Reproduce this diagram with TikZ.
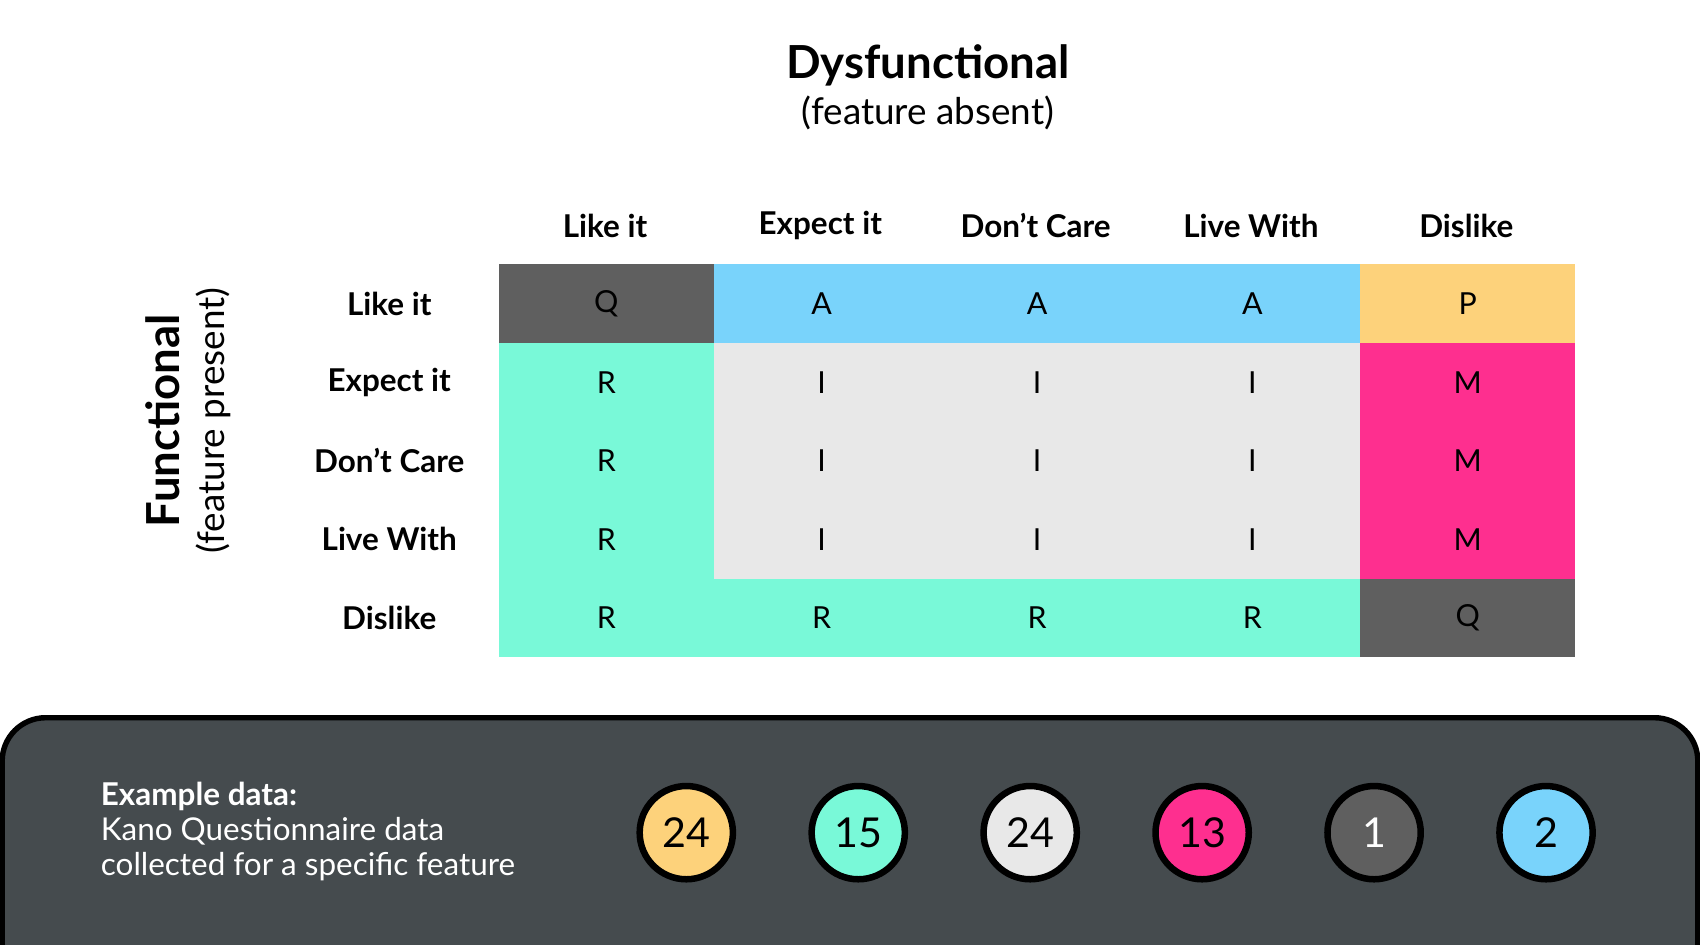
\documentclass[tikz,border=0pt]{standalone}
\usepackage{fontspec}
\setmainfont{Lato}
\begin{document}
\begin{tikzpicture}[x=0.5pt,y=-0.5pt,
 cell/.style={draw=none,minimum width=99.3pt,minimum height=36.3pt,inner sep=0pt,font=\fontsize{14}{16}\selectfont},
 hdr/.style={font=\fontsize{14.5}{16}\selectfont\bfseries},
 dot/.style={circle,draw=black,line width=3pt,minimum size=43pt,inner sep=0pt,font=\fontsize{19}{20}\selectfont}]
\useasboundingbox (0,0) rectangle (1568,871);
\definecolor{cQ}{HTML}{5F5F5F}\definecolor{cA}{HTML}{79D3FB}\definecolor{cP}{HTML}{FDD27B}
\definecolor{cR}{HTML}{79F9D8}\definecolor{cI}{HTML}{E8E8E8}\definecolor{cM}{HTML}{FE2F8F}
\definecolor{panel}{HTML}{454B4E}
\node[font=\fontsize{21}{24}\selectfont\bfseries] (t1) at (856,60) {Dysfunctional};
\node[font=\fontsize{17}{20}\selectfont] (t2) at (856,104) {(feature absent)};
\node[rotate=90,font=\fontsize{21}{24}\selectfont\bfseries] (f1) at (150,388) {Functional};
\node[rotate=90,font=\fontsize{17}{20}\selectfont] (f2) at (197,388) {(feature present)};
\foreach \l [count=\i] in {Like it,Expect it,Don’t Care,Live With,Dislike}{
 \node[hdr] (c\i) at ({558+198.6*(\i-1)},208) {\l};
 \node[hdr] (r\i) at (359,{280+72.5*(\i-1)}) {\l};}
\foreach \row [count=\j] in {{Q/cQ,A/cA,A/cA,A/cA,P/cP},{R/cR,I/cI,I/cI,I/cI,M/cM},{R/cR,I/cI,I/cI,I/cI,M/cM},{R/cR,I/cI,I/cI,I/cI,M/cM},{R/cR,R/cR,R/cR,R/cR,Q/cQ}}{
 \foreach \t/\c [count=\i] in \row{
  \node[cell,fill=\c] (m\j\i) at ({559.3+198.6*(\i-1)},{280+72.5*(\j-1)}) {\t};}}
\draw[panel,fill=panel] (2,875) -- (2,702) arc[start angle=180,end angle=270,radius=40] -- (1526,662) arc[start angle=270,end angle=360,radius=40] -- (1566,875);
\draw[black,line width=2.5pt] (2,875) -- (2,702) arc[start angle=180,end angle=270,radius=40] -- (1526,662) arc[start angle=270,end angle=360,radius=40] -- (1566,875);
\node[white,anchor=west,align=left,font=\fontsize{14.5}{16}\selectfont] (ex) at (86,767) {{\bfseries Example data:}\\Kano Questionnaire data\\collected for a specific feature};
\foreach \n/\c/\tc [count=\i] in {24/cP/black,15/cR/black,24/cI/black,13/cM/black,1/cQ/white,2/cA/black}{
 \node[dot,fill=\c,text=\tc] (d\i) at ({633+158.6*(\i-1)},768) {\n};}
\end{tikzpicture}
\end{document}
